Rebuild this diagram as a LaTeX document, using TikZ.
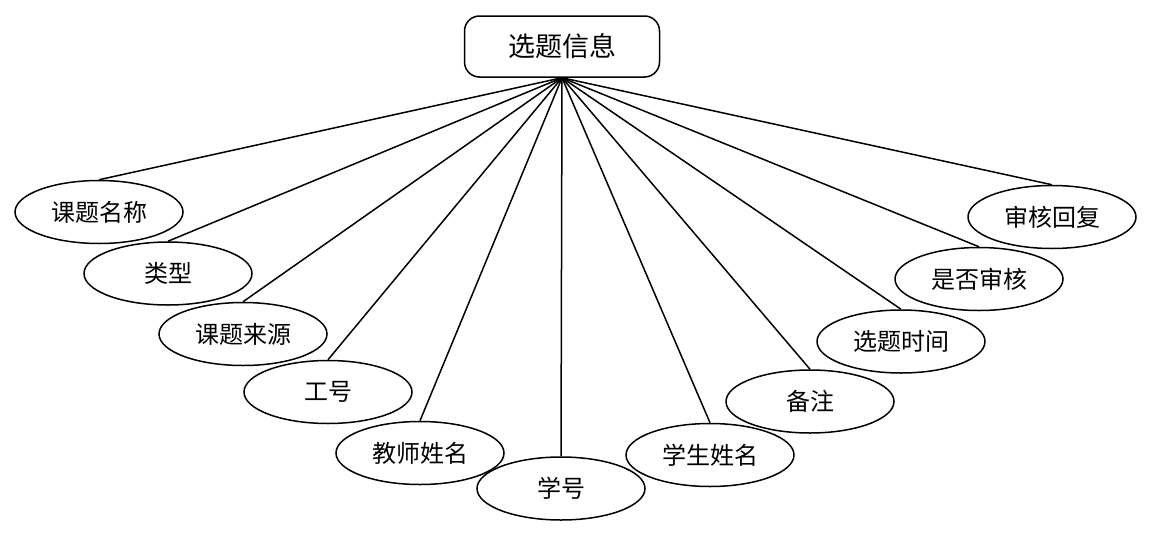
\documentclass[tikz,border=0pt]{standalone}
\usepackage{fontspec}
\newfontfamily\cjk{Noto Sans CJK SC}
\usetikzlibrary{shapes.geometric}
\begin{document}
\begin{tikzpicture}[x=1pt,y=-1pt,
  attr/.style={ellipse,draw,line width=1.5pt,minimum width=168pt,minimum height=63pt,inner sep=0pt,font=\cjk\fontsize{24}{26}\selectfont},
  entity/.style={rectangle,rounded corners=15pt,draw,line width=1.5pt,minimum width=195pt,minimum height=61pt,inner sep=0pt,font=\cjk\fontsize{27}{30}\selectfont},
  link/.style={line width=1.5pt}]
\useasboundingbox (0,0) rectangle (1149,536);
\node[entity] (top) at (562,46.5) {选题信息};
\node[attr] (a1) at (99,212) {课题名称};
\node[attr] (a2) at (168,273.5) {类型};
\node[attr] (a3) at (243,334) {课题来源};
\node[attr] (a4) at (328,392) {工号};
\node[attr] (a5) at (420,453) {教师姓名};
\node[attr] (a6) at (561,488.5) {学号};
\node[attr] (a7) at (710,455) {学生姓名};
\node[attr] (a8) at (810,401.5) {备注};
\node[attr] (a9) at (901,341.5) {选题时间};
\node[attr] (a10) at (979,279) {是否审核};
\node[attr] (a11) at (1052,217) {审核回复};
\coordinate (hub) at (top.south);
\foreach \i in {1,...,11} {\draw[link] (hub) -- (a\i.north);}
\end{tikzpicture}
\end{document}
